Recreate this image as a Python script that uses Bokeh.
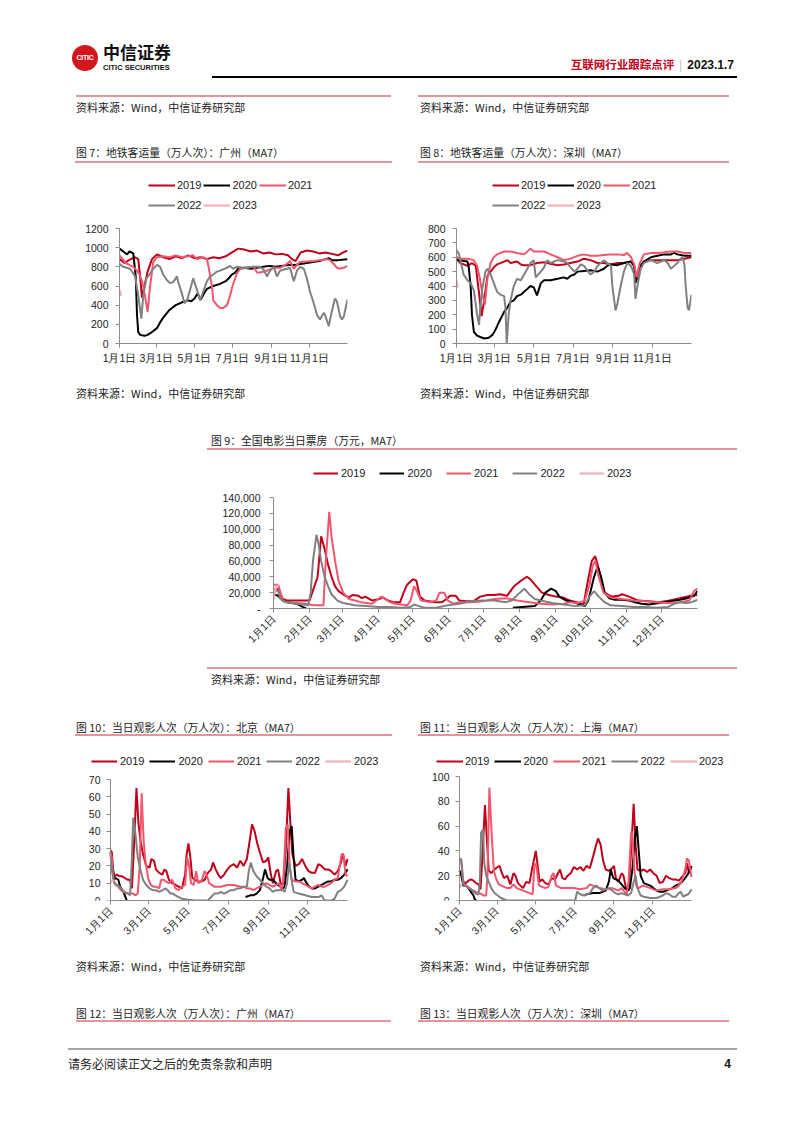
import math
from bokeh.plotting import figure
from bokeh.models import Range1d, FixedTicker, NumeralTickFormatter, Legend, LegendItem, Div
from bokeh.layouts import column, row
from bokeh.embed import file_html
from bokeh.resources import INLINE

NAN = float("nan")

# ---------------- data ----------------
YEARS = ["2019", "2020", "2021", "2022", "2023"]
COLORS = ["#C0001A", "#000000", "#F0566E", "#808080", "#F6A9B6"]

TICKS_ODD = [0, 59, 120, 181, 243, 304]
LABELS_ODD = ["1月1日", "3月1日", "5月1日", "7月1日", "9月1日", "11月1日"]
TICKS_ALL = [0, 31, 59, 90, 120, 151, 181, 212, 243, 273, 304, 334]
LABELS_ALL = ["1月1日", "2月1日", "3月1日", "4月1日", "5月1日", "6月1日",
              "7月1日", "8月1日", "9月1日", "10月1日", "11月1日", "12月1日"]

# Fig 7: Guangzhou metro (day-of-year, value)
GZ_2019 = [(0,880),(8,840),(15,870),(25,900),(30,880),(33,700),(36,480),(40,600),(45,750),(52,880),(60,930),(70,900),(80,880),(90,910),(100,890),(110,920),(120,890),(130,900),(140,880),(150,900),(160,890),(170,910),(180,950),(190,990),(200,980),(210,960),(220,970),(230,940),(240,950),(250,930),(260,935),(270,920),(276,880),(282,860),(290,950),(300,970),(310,960),(320,940),(330,950),(340,935),(350,920),(358,950),(365,970)]
GZ_2020 = [(0,990),(6,960),(12,930),(16,960),(22,940),(26,700),(28,300),(30,120),(33,90),(40,80),(45,90),(50,110),(60,160),(65,220),(70,270),(80,350),(90,400),(100,430),(110,450),(115,440),(120,470),(125,520),(130,460),(135,520),(140,570),(150,600),(160,620),(170,650),(175,680),(180,720),(185,740),(190,780),(200,790),(210,780),(220,790),(230,800),(240,810),(250,800),(260,810),(270,820),(280,820),(290,830),(300,840),(310,850),(320,860),(330,880),(335,890),(340,870),(350,870),(365,880)]
GZ_2021 = [(0,920),(5,880),(10,840),(17,815),(22,800),(28,760),(32,720),(36,650),(38,600),(42,450),(45,330),(49,600),(54,850),(60,900),(70,910),(80,900),(90,920),(100,900),(110,910),(118,920),(124,880),(134,900),(140,880),(142,820),(148,600),(150,450),(156,400),(161,370),(166,370),(172,400),(177,500),(181,600),(188,730),(193,780),(204,790),(215,800),(220,740),(225,740),(236,760),(247,790),(257,790),(268,830),(273,860),(279,780),(284,820),(289,850),(311,860),(332,880),(337,870),(343,830),(348,790),(353,780),(359,790),(365,810)]
GZ_2022 = [(0,830),(6,800),(17,780),(25,700),(30,500),(35,260),(38,500),(43,680),(48,720),(54,780),(60,820),(65,800),(70,720),(76,660),(81,630),(86,640),(92,700),(94,640),(100,520),(104,420),(108,450),(113,560),(118,680),(124,560),(129,450),(134,540),(140,650),(145,700),(150,720),(156,750),(161,760),(172,790),(177,810),(182,780),(188,800),(198,790),(215,800),(225,800),(231,770),(236,700),(241,760),(247,800),(252,700),(257,760),(268,780),(273,790),(279,650),(284,760),(289,800),(295,780),(300,680),(305,540),(311,420),(316,300),(321,250),(327,320),(329,300),(332,240),(335,180),(337,250),(343,420),(345,470),(348,440),(353,290),(356,250),(359,280),(365,460)]
GZ_2023 = [(0,560),(3,500)]

# Fig 8: Shenzhen metro
SZ_2019 = [(0,590),(6,560),(17,540),(24,560),(30,540),(35,350),(39,190),(43,300),(48,470),(53,500),(58,530),(63,550),(74,570),(79,580),(84,560),(94,570),(100,550),(105,545),(115,545),(125,560),(136,565),(146,555),(157,545),(167,550),(177,560),(188,570),(198,590),(208,580),(219,560),(229,560),(240,550),(250,560),(260,560),(271,570),(276,540),(280,440),(286,540),(291,570),(302,580),(312,580),(323,580),(333,580),(343,580),(354,590),(365,600)]
SZ_2020 = [(0,580),(10,575),(17,570),(19,530),(22,400),(24,200),(27,80),(32,55),(37,45),(43,35),(50,40),(56,60),(61,100),(66,150),(74,220),(79,250),(84,290),(89,300),(94,330),(100,340),(105,360),(110,380),(115,400),(120,390),(125,335),(131,420),(136,440),(146,440),(157,450),(167,460),(172,450),(177,470),(183,480),(188,500),(198,505),(208,510),(219,500),(224,510),(229,520),(234,540),(240,550),(250,545),(260,560),(271,570),(276,540),(278,420),(284,530),(291,570),(302,600),(312,610),(323,620),(333,620),(338,630),(343,620),(354,610),(365,610)]
SZ_2021 = [(0,600),(6,590),(17,590),(27,580),(32,540),(36,460),(40,350),(44,270),(48,450),(53,560),(58,600),(63,620),(74,640),(84,640),(94,630),(105,620),(115,660),(120,640),(125,640),(136,640),(146,620),(157,600),(167,580),(177,590),(188,610),(198,620),(208,610),(219,610),(229,615),(240,620),(250,620),(260,615),(265,630),(271,600),(276,550),(280,460),(284,550),(291,620),(302,630),(312,630),(323,635),(333,640),(343,640),(354,630),(365,630)]
SZ_2022 = [(0,650),(4,620),(6,580),(11,480),(17,440),(22,420),(27,370),(32,200),(35,130),(37,250),(40,380),(45,500),(48,520),(53,480),(58,420),(63,360),(68,340),(74,330),(76,250),(78,0),(81,200),(84,300),(89,400),(94,450),(100,440),(105,480),(110,520),(115,560),(120,580),(123,460),(125,470),(131,500),(136,530),(141,580),(146,560),(157,580),(167,570),(172,560),(177,530),(183,500),(188,520),(193,550),(198,540),(203,510),(208,480),(214,500),(219,540),(224,560),(229,580),(234,560),(240,540),(242,400),(245,300),(247,230),(250,280),(255,400),(260,500),(265,560),(271,540),(276,480),(278,310),(281,400),(286,520),(291,560),(302,580),(312,560),(323,580),(328,560),(333,520),(338,540),(343,560),(348,590),(351,600),(354,550),(356,400),(359,250),(361,230),(365,340)]
SZ_2023 = [(0,440),(2,390)]

# Fig 9: national daily box office (10k CNY)
BO_2019 = [(0,20000),(4,25000),(8,12000),(12,10000),(20,10000),(31,10000),(38,40000),(41,91000),(44,75000),(47,55000),(50,40000),(53,28000),(56,22000),(62,16000),(65,14000),(68,17000),(73,16000),(76,13000),(79,15000),(85,10000),(91,12000),(94,14000),(99,10000),(103,8000),(109,8000),(112,20000),(115,30000),(120,37000),(123,35000),(126,15000),(130,10000),(139,8000),(145,8000),(149,12000),(152,16000),(157,16000),(160,10000),(166,9000),(172,9000),(178,15000),(184,17000),(190,17000),(195,18000),(201,16000),(207,28000),(213,35000),(218,40000),(221,37000),(225,30000),(231,20000),(237,17000),(243,15000),(249,14000),(255,10000),(261,8000),(267,5000),(270,30000),(274,60000),(277,66000),(280,50000),(285,20000),(291,15000),(297,16000),(300,18000),(306,15000),(314,10000),(323,9000),(332,8000),(341,10000),(350,13000),(359,16000),(365,17000)]
BO_2020 = [(0,18000),(4,16000),(8,10000),(12,8000),(20,6000),(25,2000),(28,0),(29,NAN),(206,1000),(225,3000),(230,10000),(234,20000),(239,25000),(243,22000),(246,15000),(252,10000),(258,8000),(264,5000),(268,3000),(271,10000),(276,40000),(279,53000),(282,40000),(285,20000),(289,13000),(294,11000),(300,11000),(306,10000),(311,8000),(317,6000),(323,5000),(332,7000),(341,9000),(350,11000),(356,13000),(362,16000),(365,22000)]
BO_2021 = [(0,30000),(4,30000),(6,20000),(8,10000),(12,8000),(20,7000),(28,6000),(31,5000),(35,4000),(43,4000),(45,60000),(48,122000),(50,90000),(53,60000),(56,35000),(60,20000),(65,12000),(70,10000),(75,8000),(80,7000),(85,6000),(90,12000),(93,15000),(96,12000),(100,8000),(105,6000),(110,5000),(115,4000),(118,10000),(121,28000),(124,20000),(127,10000),(135,8000),(140,10000),(143,20000),(147,20000),(150,10000),(155,6000),(160,8000),(170,8000),(180,9000),(190,12000),(200,13000),(210,10000),(220,8000),(230,6000),(240,5000),(250,6000),(255,8000),(262,7000),(268,10000),(272,30000),(275,55000),(277,60000),(280,40000),(284,20000),(290,14000),(300,12000),(310,10000),(320,9000),(330,8000),(340,7000),(350,8000),(358,10000),(362,22000),(365,25000)]
BO_2022 = [(0,25000),(4,22000),(6,12000),(10,8000),(15,7000),(20,6000),(25,5000),(30,4000),(32,20000),(34,60000),(37,93000),(39,80000),(41,60000),(44,40000),(47,28000),(50,18000),(55,10000),(60,7000),(70,4000),(80,3000),(90,2000),(100,2000),(110,1000),(118,2000),(121,5000),(125,3000),(130,1000),(140,1000),(150,4000),(160,6000),(170,9000),(180,10000),(190,10000),(200,8000),(205,10000),(212,20000),(216,25000),(220,18000),(225,12000),(230,10000),(240,7000),(250,5000),(260,3000),(268,4000),(272,15000),(276,22000),(280,15000),(285,8000),(290,4000),(300,3000),(310,2000),(320,2000),(330,1000),(340,2000),(345,6000),(350,8000),(355,7000),(360,8000),(365,11000)]
BO_2023 = [(0,10000),(2,28000),(5,30000)]

# Fig 10: Beijing cinema admissions (10k)
BJ_2019 = [(0,29),(2,28),(4,18),(6,14),(10,15),(14,14),(18,14),(22,13),(26,12),(30,12),(33,7),(36,30),(40,65),(43,45),(46,35),(50,27),(55,20),(60,19),(63,24),(67,23),(70,18),(75,16),(80,15),(83,18),(86,17),(90,12),(95,10),(100,9),(105,8),(110,7),(115,15),(117,26),(120,33),(123,25),(126,13),(130,12),(135,11),(140,11),(145,12),(150,16),(155,18),(158,22),(162,18),(166,15),(170,13),(175,15),(180,18),(185,20),(190,21),(195,19),(200,23),(205,20),(210,24),(215,36),(218,44),(222,40),(226,33),(230,28),(235,22),(240,23),(243,25),(247,15),(250,10),(255,17),(258,18),(262,10),(266,9),(270,30),(274,65),(277,45),(280,27),(285,20),(290,21),(295,24),(300,20),(305,17),(310,16),(315,16),(320,21),(325,20),(330,18),(335,18),(340,17),(345,15),(350,17),(355,22),(358,27),(362,20),(365,24)]
BJ_2020 = [(0,28),(3,18),(5,12),(8,13),(12,12),(15,8),(20,5),(23,2),(25,0),(26,NAN),(208,2),(215,3),(220,3),(225,4),(230,6),(235,13),(238,18),(242,13),(245,12),(250,12),(255,10),(258,9),(262,8),(265,7),(268,8),(272,20),(276,40),(279,43),(282,25),(285,12),(290,11),(295,12),(298,13),(302,10),(306,8),(310,7),(315,7),(320,8),(325,9),(330,10),(335,11),(340,11),(345,12),(350,12),(355,13),(360,15),(365,18)]
BJ_2021 = [(0,28),(2,25),(4,12),(8,9),(12,8),(16,6),(20,5),(25,4),(30,4),(35,4),(38,3),(42,4),(45,20),(48,62),(51,35),(54,22),(58,13),(62,9),(66,8),(70,8),(75,7),(78,12),(82,12),(85,11),(90,10),(95,12),(100,7),(105,6),(110,8),(115,9),(118,25),(121,20),(124,10),(128,9),(132,17),(135,10),(140,11),(145,17),(148,15),(152,10),(156,9),(160,8),(170,8),(180,9),(190,9),(200,8),(205,8),(210,7),(215,7),(220,6),(225,7),(230,8),(235,9),(240,10),(245,9),(250,8),(255,9),(260,10),(263,6),(266,10),(270,42),(273,44),(276,20),(279,12),(285,11),(290,11),(295,10),(300,9),(305,8),(310,7),(315,8),(320,9),(325,8),(330,8),(335,9),(340,10),(345,12),(350,13),(353,20),(356,27),(359,26),(362,15),(365,14)]
BJ_2022 = [(0,26),(3,16),(6,10),(10,9),(14,8),(18,6),(22,5),(27,4),(30,3),(32,15),(35,48),(38,40),(42,25),(46,18),(50,12),(55,9),(60,7),(65,6),(70,6),(75,5),(80,6),(85,7),(88,6),(92,4),(96,4),(100,3),(105,2),(110,1),(120,0.5),(130,0),(150,0),(155,2),(160,4),(165,4),(170,5),(175,4),(180,5),(185,6),(190,6),(195,7),(200,7),(205,8),(210,8),(213,17),(216,22),(220,17),(225,14),(230,12),(235,10),(240,8),(245,7),(250,5),(255,6),(260,6),(265,6),(268,5),(272,10),(275,22),(278,14),(282,5),(290,4),(300,3),(310,2),(320,2),(325,3),(328,1),(330,0),(340,0),(345,1),(350,5),(355,6),(360,8),(365,12)]
BJ_2023 = [(0,10),(3,12),(5,11)]

# Fig 11: Shanghai cinema admissions (10k)
SH_2019 = [(0,24),(3,22),(6,15),(10,14),(14,16),(18,17),(22,16),(26,14),(30,13),(33,9),(36,35),(40,77),(43,50),(46,24),(50,22),(55,25),(60,27),(63,28),(66,23),(70,18),(75,20),(80,13),(85,22),(88,20),(92,14),(96,12),(100,10),(105,15),(110,14),(114,25),(118,35),(120,40),(123,28),(126,15),(130,17),(135,14),(140,13),(145,18),(150,17),(155,22),(158,25),(162,18),(166,17),(170,20),(175,22),(180,27),(185,25),(190,27),(195,24),(200,28),(205,26),(210,35),(215,45),(218,50),(222,45),(226,32),(230,25),(235,24),(240,26),(243,28),(246,18),(250,15),(255,22),(258,20),(262,10),(266,8),(270,40),(274,78),(277,45),(280,25),(285,24),(290,25),(295,23),(300,25),(305,22),(310,20),(315,14),(320,15),(325,20),(330,18),(335,17),(340,17),(345,16),(350,19),(355,22),(358,30),(361,22),(365,27)]
SH_2020 = [(0,24),(3,20),(6,12),(10,12),(14,10),(18,7),(22,4),(24,1),(26,0),(27,NAN),(196,4),(200,5),(210,6),(220,6),(230,8),(235,15),(238,25),(242,18),(246,17),(250,16),(255,13),(260,10),(265,8),(268,10),(272,25),(276,50),(279,60),(282,40),(285,20),(290,14),(295,13),(300,12),(305,10),(310,8),(315,7),(320,7),(325,8),(330,9),(335,10),(340,12),(345,13),(350,15),(355,18),(360,22),(365,28)]
SH_2021 = [(0,33),(3,30),(6,14),(10,12),(14,11),(18,9),(22,8),(26,7),(30,6),(35,5),(38,4),(42,4),(44,20),(47,91),(51,50),(54,24),(58,17),(62,13),(66,12),(70,11),(75,10),(80,10),(85,13),(90,10),(95,9),(100,8),(105,7),(110,6),(115,5),(118,30),(121,28),(125,12),(130,11),(135,10),(140,11),(145,20),(148,22),(152,12),(156,11),(160,10),(170,10),(180,10),(190,9),(200,10),(205,13),(210,12),(220,10),(230,9),(240,10),(245,9),(250,8),(255,10),(260,7),(263,5),(266,15),(270,55),(272,55),(275,25),(278,12),(282,10),(288,12),(295,11),(300,10),(310,8),(320,9),(330,9),(340,10),(345,12),(350,16),(355,25),(358,34),(361,32),(365,19)]
SH_2022 = [(0,34),(3,33),(6,13),(10,12),(14,10),(18,9),(22,7),(27,5),(30,5),(32,15),(34,55),(37,57),(39,30),(42,20),(46,15),(50,10),(55,6),(60,4),(65,2),(70,1),(75,0),(182,0),(185,7),(190,5),(195,4),(200,5),(205,6),(210,10),(215,12),(220,10),(225,8),(230,9),(235,10),(240,8),(245,6),(250,5),(255,6),(260,5),(265,4),(270,6),(274,15),(277,20),(280,10),(285,4),(290,3),(300,2),(310,2),(315,3),(320,4),(325,6),(330,5),(335,3),(340,3),(345,6),(348,7),(352,3),(355,4),(360,5),(365,9)]
SH_2023 = [(0,10),(3,13)]

# ---------------- styling helpers ----------------
CJK = "'Noto Sans CJK SC', sans-serif"
NUMF = "Liberation Sans"
AXC = "#8c8c8c"
PINK = "#e3959e"
W = 802
TS = 10.8  # figure-title font size


def chart(series, ymax, ystep, ticks, labels, w, h, x0, x1, fl, fr, bb, top_off, rot,
          leg_x, leg_vy, leg_cols, glyph_w, standoff, spacing, comma=False, lab_sd=6):
    # x0/x1: pixel of day 0 / day 365 inside the figure; fl/fr: frame edges (may be wider)
    fh = h - bb
    y_end = ymax * fh / (fh - top_off)
    ppd = (x1 - x0) / 365.0
    x_start = -(x0 - fl) / ppd
    x_end = 365 + (fr - x1) / ppd
    p = figure(width=w, height=h, x_range=Range1d(x_start, x_end), y_range=Range1d(0, y_end),
               output_backend="svg", toolbar_location=None,
               min_border_left=fl, min_border_top=0, min_border_right=w - fr, min_border_bottom=bb)
    p.outline_line_color = None
    p.xgrid.visible = False
    p.ygrid.visible = False
    p.background_fill_color = "white"
    p.border_fill_color = "white"
    items = []
    for yr, col, data in zip(YEARS, COLORS, series):
        xs = [d for d, v in data]
        ys = [v for d, v in data]
        r = p.line(xs, ys, line_color=col, line_width=2)
        items.append(LegendItem(label=yr, renderers=[r]))
    for ax in (p.xaxis[0], p.yaxis[0]):
        ax.axis_line_color = AXC
        ax.major_tick_line_color = AXC
        ax.minor_tick_line_color = None
        ax.major_tick_in = 0
        ax.major_tick_out = 4
        ax.major_label_text_font = NUMF
        ax.major_label_text_font_size = "10.5px"
        ax.major_label_text_color = "#222222"
    p.yaxis.bounds = (0, ymax)
    p.xaxis.bounds = (0, 365)
    if fl < x0:
        p.yaxis.fixed_location = 0
    p.xaxis.ticker = FixedTicker(ticks=ticks)
    p.xaxis.major_label_overrides = dict(zip(ticks, labels))
    p.xaxis.major_label_standoff = 4
    p.yaxis.ticker = FixedTicker(ticks=list(range(0, ymax + 1, ystep)))
    p.yaxis.major_label_standoff = lab_sd
    if comma:
        p.yaxis.formatter = NumeralTickFormatter(format="0,0")
        p.yaxis.major_label_overrides = {0: "-"}
    if rot:
        p.xaxis.major_label_orientation = math.pi / 4
    lg = Legend(items=items, location=(leg_x - fl, leg_vy), orientation="horizontal", ncols=leg_cols,
                glyph_width=glyph_w, glyph_height=18, label_height=18,
                label_standoff=standoff, spacing=spacing, padding=0, margin=0,
                label_text_font=NUMF, label_text_font_size="11px",
                label_text_color="#222222",
                border_line_alpha=0, background_fill_alpha=0)
    p.add_layout(lg)
    return p


def T(x, cy, s, size=11, color="#222", bold=False, font=CJK, right=False):
    lh = round(size * 1.2)
    pos = f"right:{W - x}px" if right else f"left:{x}px"
    wt = "bold" if bold else "normal"
    return (f'<div style="position:absolute;{pos};top:{cy - lh / 2}px;height:{lh}px;line-height:{lh}px;'
            f'font-size:{size}px;color:{color};font-family:{font};font-weight:{wt};white-space:nowrap;">{s}</div>')


def L(x1, x2, y, color=PINK, th=1.5):
    return (f'<div style="position:absolute;left:{x1}px;top:{y - th / 2}px;width:{x2 - x1}px;'
            f'height:{th}px;background:{color};"></div>')


def block(h, parts):
    html = f'<div style="position:relative;width:{W}px;height:{h}px;overflow:hidden;">' + "".join(parts) + "</div>"
    return Div(text=html, width=W, height=h, margin=0)


SRC = "资料来源：Wind，中信证券研究部"

# header block: page y 0 -> 170
logo = ('<div style="position:absolute;left:72px;top:45px;width:26px;height:26px;border-radius:50%;'
        'background:#d2161e;color:white;font-family:\'Liberation Sans\';font-weight:bold;font-size:7px;'
        'line-height:26px;text-align:center;letter-spacing:-0.3px;">CITIC</div>')
head_right = ('<div style="position:absolute;right:68px;top:56px;height:16px;line-height:16px;white-space:nowrap;'
              f'font-family:{CJK};font-weight:bold;">'
              '<span style="color:#c4001a;font-size:11.5px;">互联网行业跟踪点评</span>'
              '<span style="color:#b0b0b0;font-size:11px;font-weight:normal;margin:0 5px;">|</span>'
              '<span style="color:#111;font-size:12px;font-family:\'Liberation Sans\';">2023.1.7</span></div>')
top = block(170, [
    logo,
    T(103, 52, "中信证券", size=17, color="#111", bold=True),
    T(103, 67, "CITIC SECURITIES", size=7.5, color="#111", bold=True, font="'Liberation Sans'"),
    head_right,
    L(212, 737, 76.5, color="#000", th=2),
    L(76, 391, 96), L(418, 729, 96),
    T(76, 107, SRC), T(420, 107, SRC),
    T(76, 152, "图 7：地铁客运量（万人次）：广州（MA7）", size=TS),
    T(420, 152, "图 8：地铁客运量（万人次）：深圳（MA7）", size=TS),
    L(75, 392, 162), L(418, 729, 162),
])

# charts row 1: page y 170 -> 375
p7 = chart([GZ_2019, GZ_2020, GZ_2021, GZ_2022, GZ_2023], 1200, 200, TICKS_ODD, LABELS_ODD,
           410, 205, 119, 347, 119, 347, 32, 58, False, 148, 129, 3, 27, 2, 2, lab_sd=7)
p8 = chart([SZ_2019, SZ_2020, SZ_2021, SZ_2022, SZ_2023], 800, 100, TICKS_ODD, LABELS_ODD,
           392, 205, 46, 281, 46, 281, 32, 58, False, 82, 129, 3, 27, 2, 2, lab_sd=7)

# middle block 1: page y 375 -> 453
mid1 = block(78, [
    T(76, 18, SRC), T(420, 18, SRC),
    T(211, 65, "图 9：全国电影当日票房（万元，MA7）", size=TS),
    L(207, 737, 74),
])

# chart 9: page y 453 -> 665
p9 = chart([BO_2019, BO_2020, BO_2021, BO_2022, BO_2023], 140000, 20000, TICKS_ALL, LABELS_ALL,
           802, 212, 273, 697, 273, 697, 57, 44, True, 313, 126, 5, 25, 3, 14, comma=True, lab_sd=9)

# middle block 2: page y 665 -> 750
mid2 = block(85, [
    L(207, 737, 3),
    T(211, 14, SRC),
    T(76, 62, "图 10：当日观影人次（万人次）：北京（MA7）", size=TS),
    T(420, 62, "图 11：当日观影人次（万人次）：上海（MA7）", size=TS),
    L(75, 392, 70), L(418, 729, 70),
])

# charts row 2: page y 750 -> 955
p10 = chart([BJ_2019, BJ_2020, BJ_2021, BJ_2022, BJ_2023], 70, 10, TICKS_ODD, LABELS_ODD,
            410, 205, 110, 347, 60, 392, 55, 29, True, 91, 130, 5, 26, 3, 5)
p11 = chart([SH_2019, SH_2020, SH_2021, SH_2022, SH_2023], 100, 20, TICKS_ODD, LABELS_ODD,
            392, 205, 49, 281, 20, 330, 55, 26, True, 26, 130, 5, 27, 2, 5)

# bottom block: page y 955 -> 1125
bottom = block(170, [
    T(76, 11, SRC), T(420, 11, SRC),
    T(76, 58, "图 12：当日观影人次（万人次）：广州（MA7）", size=TS),
    T(420, 58, "图 13：当日观影人次（万人次）：深圳（MA7）", size=TS),
    L(76, 391, 66), L(418, 729, 66),
    L(68, 737, 94, color="#a6a6a6", th=2),
    T(68, 109, "请务必阅读正文之后的免责条款和声明", size=12, color="#222"),
    T(731, 109, "4", size=12, color="#111", bold=True, font="'Liberation Sans'", right=True),
])

page = column(top, row(p7, p8, spacing=0), mid1, p9, mid2, row(p10, p11, spacing=0), bottom, spacing=0)

open("out.html", "w").write(file_html(page, INLINE, title="互联网行业跟踪点评"))
